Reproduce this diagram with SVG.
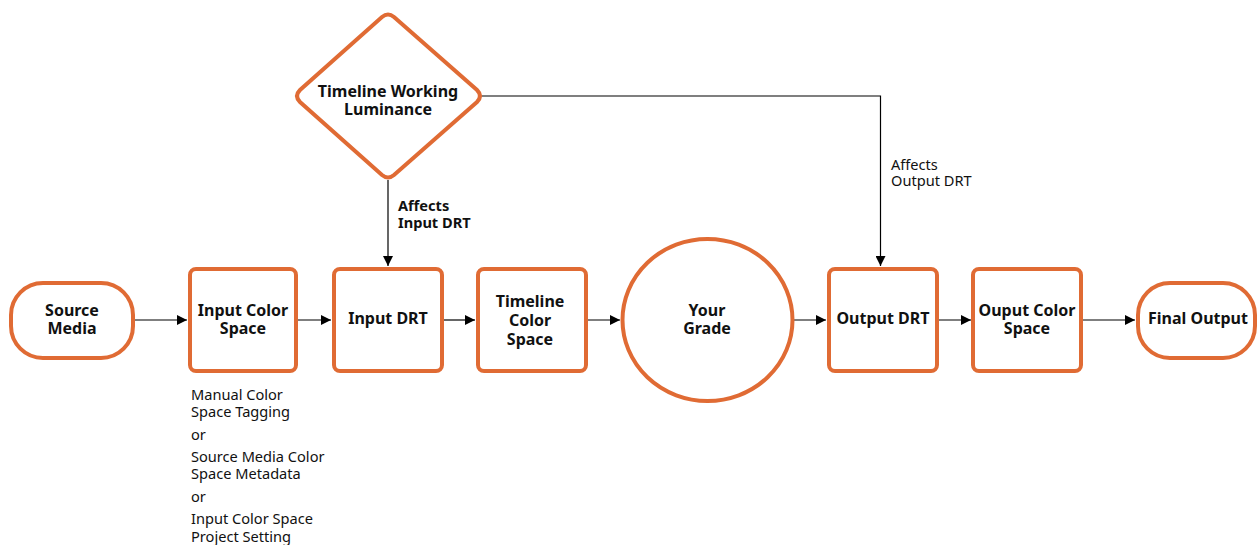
<svg xmlns="http://www.w3.org/2000/svg" width="1257" height="545" viewBox="0 0 1257 545">
<defs>
<style>
.n{fill:#fff;stroke:#E06B34;stroke-width:4}
.t{font-family:"Noto Sans","Open Sans",sans-serif;font-size:16px;font-weight:bold;fill:#111;text-anchor:middle}
.l{font-family:"Noto Sans","Open Sans",sans-serif;font-size:14.6px;fill:#111}
.c{fill:none;stroke:#000;stroke-width:1.2}
</style>
<marker id="a" viewBox="0 0 10 10" refX="10" refY="5" markerWidth="10" markerHeight="10" markerUnits="userSpaceOnUse" orient="auto">
<path d="M0,0 L10,5 L0,10 z" fill="#000"/>
</marker>
</defs>
<rect width="1257" height="545" fill="#fff"/>
<g id="connectors">
<line class="c" x1="133" y1="320" x2="187" y2="320" marker-end="url(#a)"/>
<line class="c" x1="297" y1="320" x2="331" y2="320" marker-end="url(#a)"/>
<line class="c" x1="443" y1="320" x2="475" y2="320" marker-end="url(#a)"/>
<line class="c" x1="587" y1="320" x2="620" y2="320" marker-end="url(#a)"/>
<line class="c" x1="793" y1="320" x2="826" y2="320" marker-end="url(#a)"/>
<line class="c" x1="937" y1="320" x2="971" y2="320" marker-end="url(#a)"/>
<line class="c" x1="1081" y1="320" x2="1135" y2="320" marker-end="url(#a)"/>
<line class="c" x1="388" y1="180" x2="388" y2="266" marker-end="url(#a)"/>
<polyline class="c" points="482,96 880.5,96 880.5,266" marker-end="url(#a)"/>
<text class="l" x="398" y="211" font-weight="bold">Affects</text>
<text class="l" x="398" y="228" font-weight="bold">Input DRT</text>
<text class="l" x="891" y="170">Affects</text>
<text class="l" x="891" y="186">Output DRT</text>
</g>
<g id="source-media">
<rect class="n" x="11" y="283" width="122" height="75" rx="32" ry="32"/>
<text class="t" x="72" y="316">Source</text>
<text class="t" x="72" y="334">Media</text>
</g>
<g id="input-color-space">
<rect class="n" x="190" y="269" width="106" height="102" rx="6"/>
<text class="t" x="243" y="316">Input Color</text>
<text class="t" x="243" y="334">Space</text>
</g>
<g id="input-color-space-notes">
<text class="l" x="191" y="400">Manual Color</text>
<text class="l" x="191" y="417">Space Tagging</text>
<text class="l" x="191" y="440">or</text>
<text class="l" x="191" y="462">Source Media Color</text>
<text class="l" x="191" y="479">Space Metadata</text>
<text class="l" x="191" y="502">or</text>
<text class="l" x="191" y="524">Input Color Space</text>
<text class="l" x="191" y="542">Project Setting</text>
</g>
<g id="input-drt">
<rect class="n" x="334" y="269" width="108" height="102" rx="6"/>
<text class="t" x="388" y="324">Input DRT</text>
</g>
<g id="timeline-color-space">
<rect class="n" x="478" y="269" width="108" height="102" rx="6"/>
<text class="t" x="530" y="307">Timeline</text>
<text class="t" x="530" y="326">Color</text>
<text class="t" x="530" y="345">Space</text>
</g>
<g id="your-grade">
<ellipse class="n" cx="707.5" cy="320" rx="85" ry="81"/>
<text class="t" x="707" y="316">Your</text>
<text class="t" x="707" y="334">Grade</text>
</g>
<g id="output-drt">
<rect class="n" x="829" y="269" width="108" height="102" rx="6"/>
<text class="t" x="883" y="324">Output DRT</text>
</g>
<g id="output-color-space">
<rect class="n" x="973" y="269" width="108" height="102" rx="6"/>
<text class="t" x="1027" y="316">Ouput Color</text>
<text class="t" x="1027" y="334">Space</text>
</g>
<g id="final-output">
<rect class="n" x="1138" y="283" width="117" height="75" rx="32" ry="32"/>
<text class="t" x="1198" y="324">Final Output</text>
</g>
<g id="timeline-working-luminance">
<path class="n" d="M382,17 Q388,12 394,17 L477,90 Q483,96 477,102 L394,175 Q388,180 382,175 L300,102 Q294,96 300,90 Z"/>
<text class="t" x="388" y="97">Timeline Working</text>
<text class="t" x="388" y="115">Luminance</text>
</g>
</svg>
